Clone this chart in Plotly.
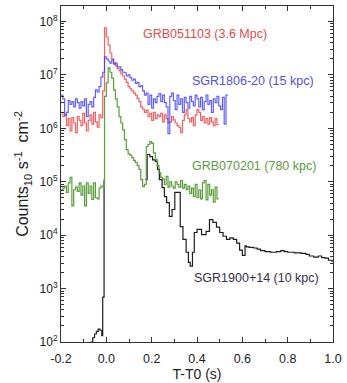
import numpy as np
import plotly.graph_objects as go

# Light curves, counts in log10 units, binned at 8 ms starting at T-T0 = -0.2 s
BIN = 0.008
T_START = -0.2

grb051103_log = [
    6.30, 6.22, 6.25, 6.05, 6.18, 5.95, 6.20, 6.10, 5.92, 6.22, 6.15, 6.05,
    6.28, 6.10, 5.95, 6.15, 6.25, 6.08, 6.30, 6.12, 6.02, 6.25, 6.20,
    6.70, 7.88,
    7.71, 7.56, 7.41, 7.30, 7.22, 7.18, 7.12, 7.08, 7.02, 6.98, 6.92, 6.86,
    6.78, 6.74, 6.70, 6.66, 6.62, 6.56, 6.50, 6.40, 6.36, 6.30, 6.34,
    6.22, 6.28, 6.15, 6.30, 6.18, 6.25, 6.22, 6.28, 6.12, 6.25, 6.18, 6.10,
    6.12, 6.22, 6.16, 6.10, 6.05, 6.02, 5.92, 6.15, 6.25, 6.35, 6.18, 6.12,
    6.20, 6.05, 6.25, 6.35, 6.30, 6.15, 6.22, 6.10, 6.18, 6.08, 6.20, 6.12,
    6.05, 6.18, 6.07,
]

sgr1806_log = [
    6.62, 6.55, 6.25, 6.30, 6.52, 6.45, 6.50, 6.40, 6.55, 6.48, 6.38, 6.50,
    6.42, 6.55, 6.22, 6.45, 6.50, 6.40, 6.58, 6.72, 6.68, 6.78, 6.96, 7.05,
    7.34,
    7.30, 7.26, 7.22, 7.28, 7.20, 7.22, 7.15, 7.15, 7.10, 7.05, 7.04, 6.98,
    7.00, 6.95, 6.90, 6.92, 6.84, 6.86, 6.78, 6.80, 6.70, 6.62, 6.66,
    6.45, 6.62, 6.38, 6.55, 6.48, 6.60, 6.65, 6.50, 6.62, 6.48, 6.40, 5.90,
    6.60, 6.66, 6.52, 6.35, 6.62, 6.45, 6.55, 6.30, 6.58, 6.48, 6.38, 6.60,
    6.50, 6.42, 6.62, 6.55, 6.40, 6.58, 6.35, 6.50, 6.62, 6.45, 6.52, 6.30,
    6.55, 6.48, 6.60, 6.42, 6.35, 6.58, 6.08, 6.62,
]

grb070201_log = [
    4.85, 4.88, 4.92, 4.80, 4.98, 5.08, 4.55, 4.85, 4.90, 4.82, 4.98, 4.75,
    4.92, 4.55, 4.98, 4.78, 4.92, 4.67, 4.98, 4.70, 4.68, 4.88, 4.92, 4.90,
    6.60,
    6.85, 7.13, 7.05, 6.94, 6.72, 6.55, 6.40, 6.22, 6.10, 5.97, 5.79, 5.60,
    5.52, 5.50, 5.45, 5.40, 5.36, 5.30, 5.23, 5.04, 4.91, 4.95, 5.66, 5.70,
    5.75, 5.72, 5.54, 5.42, 5.30, 5.17, 5.08,
    5.05, 4.95, 5.10, 4.90, 5.00, 4.92, 4.88, 5.00, 4.95, 4.90, 5.02, 4.88,
    4.95, 4.85, 4.92, 4.78, 4.88, 4.72, 4.95, 4.70, 4.85, 4.68, 4.98, 5.02,
    4.66, 4.95, 4.75, 4.85, 4.62, 4.90, 4.68,
]

# SGR 1900+14 giant flare, irregular sampling; None marks the saturated gap
sgr1900_t = [
    -0.200, -0.068, -0.060, -0.052, -0.044, -0.036, -0.028, -0.020, -0.016,
    -0.010, -0.004,
    0.172, 0.180, 0.192, 0.204, 0.216, 0.226, 0.234, 0.246, 0.256, 0.266,
    0.278, 0.290, 0.302, 0.326, 0.338, 0.352, 0.362, 0.370, 0.380, 0.388,
    0.400, 0.420, 0.440, 0.455, 0.470, 0.486, 0.500, 0.515, 0.530, 0.545,
    0.560, 0.575, 0.588, 0.600, 0.612, 0.618, 0.630, 0.650, 0.665, 0.680,
    0.700, 0.725, 0.750, 0.770, 0.785, 0.800, 0.830, 0.860, 0.880, 0.895,
    0.915, 0.935, 0.950, 0.965, 0.980, 0.995, 1.000,
]
sgr1900_log = [
    1.50, 2.00, 2.08, 2.15, 2.20, 2.24, 2.22, 2.12, 2.84,
    5.04, None,
    5.04, 5.51, 5.47, 5.41, 5.38, 5.23, 5.04, 4.89, 4.72, 4.61,
    4.35, 4.48, 4.80, 4.16, 3.92, 3.68, 3.49, 3.42, 3.68, 4.05,
    4.11, 4.01, 4.07, 4.29, 4.24, 4.15, 4.05, 3.98, 3.92, 3.95,
    3.92, 3.85, 3.72, 3.62, 3.80, 3.78, 3.77, 3.76, 3.74, 3.71,
    3.69, 3.68, 3.69, 3.71, 3.69, 3.68, 3.67, 3.66, 3.64, 3.61,
    3.59, 3.61, 3.58, 3.57, 3.53, 3.52, 3.52,
]

labels = {
    "grb051103": "GRB051103 (3.6 Mpc)",
    "sgr1806": "SGR1806-20 (15 kpc)",
    "grb070201": "GRB070201 (780 kpc)",
    "sgr1900": "SGR1900+14 (10 kpc)",
}

x_ticks = [-0.2, 0.0, 0.2, 0.4, 0.6, 0.8, 1.0]
x_ticktext = ["-0.2", "0.0", "0.2", "0.4", "0.6", "0.8", "1.0"]
y_exponents = [2, 3, 4, 5, 6, 7, 8]

FONT = "Liberation Sans, Arial, sans-serif"


def binned(log_vals):
    """Bin-start times plus a closing edge, counts from log10 values."""
    n = len(log_vals)
    t = list(np.round(T_START + BIN * np.arange(n + 1), 4))
    c = [10 ** v for v in log_vals] + [10 ** log_vals[-1]]
    return t, c


fig = go.Figure()

# SGR 1900+14
fig.add_trace(go.Scatter(
    x=sgr1900_t,
    y=[None if v is None else 10 ** v for v in sgr1900_log],
    mode="lines", line=dict(shape="hv", color="#1e1e1e", width=1.2),
    connectgaps=False, showlegend=False,
))

t, c = binned(grb070201_log)
fig.add_trace(go.Scatter(x=t, y=c, mode="lines",
                         line=dict(shape="hv", color="#5a9e3c", width=1.2),
                         showlegend=False))

t, c = binned(grb051103_log)
fig.add_trace(go.Scatter(x=t, y=c, mode="lines", opacity=0.8,
                         line=dict(shape="hv", color="#ee3c3c", width=1.2),
                         showlegend=False))

t, c = binned(sgr1806_log)
fig.add_trace(go.Scatter(x=t, y=c, mode="lines", opacity=0.8,
                         line=dict(shape="hv", color="#3c3cf5", width=1.2),
                         showlegend=False))

ann = [
    (labels["grb051103"], 0.434, 7.765, "#e04c4c"),
    (labels["sgr1806"], 0.647, 6.89, "#5050e6"),
    (labels["grb070201"], 0.653, 5.30, "#5f9a45"),
    (labels["sgr1900"], 0.664, 3.20, "#383048"),
]
for text, ax, ay, col in ann:
    fig.add_annotation(x=ax, y=ay, text=text, showarrow=False,
                       xanchor="center", yanchor="middle",
                       font=dict(family=FONT, size=12.5, color=col))

minor_y = [k * 10 ** p for p in range(2, 9) for k in range(2, 10)]

fig.update_layout(
    width=347, height=383,
    margin=dict(l=61, r=9, t=5, b=40),
    paper_bgcolor="white", plot_bgcolor="white",
    font=dict(family=FONT, size=12, color="#222"),
    xaxis=dict(
        range=[-0.2, 1.0], tickmode="array", tickvals=x_ticks,
        ticktext=x_ticktext, ticks="inside", ticklen=5, tickcolor="#333",
        showline=True, linecolor="#333", linewidth=1, mirror="allticks",
        showgrid=False, zeroline=False, ticklabelstandoff=5,
        minor=dict(dtick=0.1, tick0=0, ticks="inside", ticklen=3,
                   tickcolor="#333", showgrid=False),
        title=dict(text="T-T0 (s)", font=dict(size=14), standoff=2),
        tickfont=dict(size=12.5),
    ),
    yaxis=dict(
        type="log", range=[2, 8.29], tickmode="array",
        tickvals=[10 ** e for e in y_exponents],
        ticktext=[f"10<sup>{e}</sup>" for e in y_exponents],
        ticks="inside", ticklen=5, tickcolor="#333",
        showline=True, linecolor="#333", linewidth=1, mirror="allticks",
        showgrid=False, zeroline=False,
        minor=dict(tickvals=minor_y, ticks="inside", ticklen=3,
                   tickcolor="#333", showgrid=False),
        title=dict(text="Counts<sub>10</sub> s<sup>-1</sup>  cm<sup>-2</sup>",
                   font=dict(size=16), standoff=6),
        tickfont=dict(size=12),
    ),
)

fig.write_html("out.html")
